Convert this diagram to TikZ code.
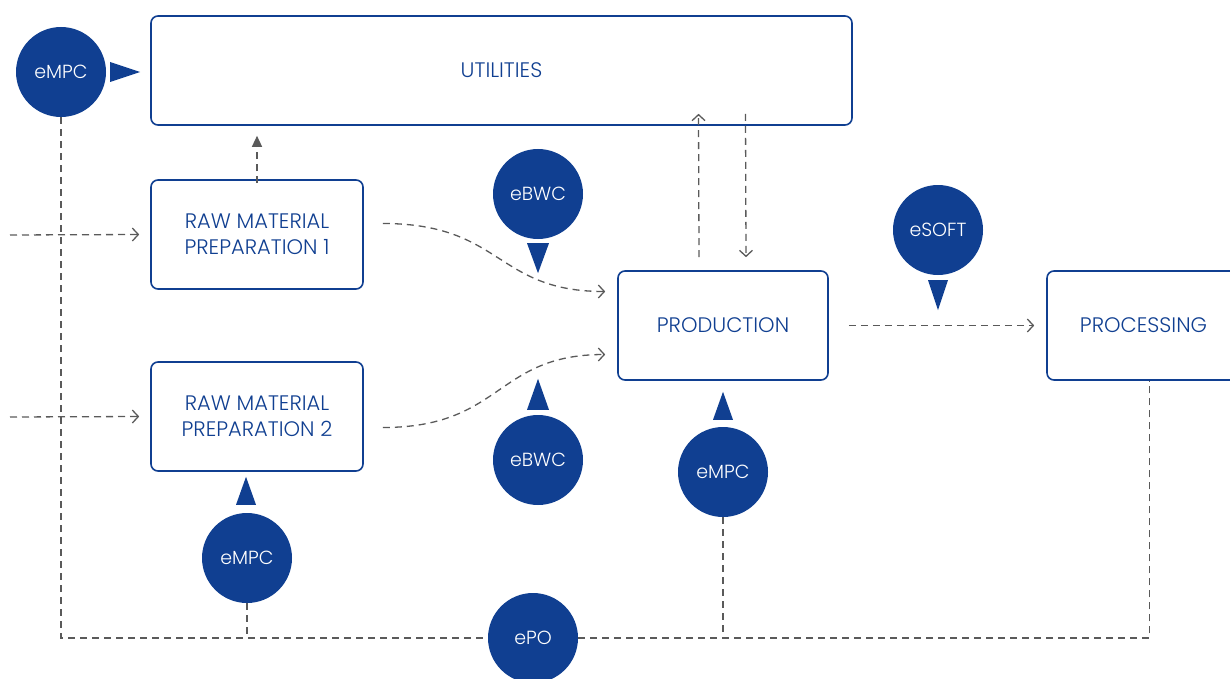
\documentclass[tikz,border=0pt]{standalone}
\usepackage{fontspec}
\IfFontExistsTF{Poppins Light}{\setmainfont{Poppins Light}}{\setmainfont{Poppins}}
\usetikzlibrary{arrows.meta,calc}
\definecolor{eblue}{RGB}{16,63,145}
\definecolor{lgray}{RGB}{90,90,90}
\tikzset{
  box/.style={draw=eblue,line width=1.6pt,rounded corners=7pt,fill=white,text=eblue,
    font=\fontsize{21}{26}\selectfont,align=center},
  badge/.style={circle,fill=eblue,text=white,minimum size=90pt,inner sep=0pt,
    font=\fontsize{19}{22}\selectfont},
  flow/.style={draw=lgray,line width=1.3pt,dash pattern=on 7pt off 5pt},
  opentip/.style={-{Straight Barb[length=6pt,width=13pt,line width=1.3pt]}},
  filltip/.style={-{Triangle[length=11pt,width=10pt]}},
  pointer/.style={fill=eblue}
}
\begin{document}
\begin{tikzpicture}[x=1pt,y=-1pt]
\useasboundingbox (0,0) rectangle (1230,679);
\begin{scope}
\clip (0,0) rectangle (1230,679);
% boxes
\node[box,minimum width=701pt,minimum height=109pt] (util) at (501.5,70.5) {UTILITIES};
\node[box,minimum width=212pt,minimum height=109pt] (raw1) at (257,234.5) {RAW MATERIAL\\PREPARATION 1};
\node[box,minimum width=212pt,minimum height=109pt] (raw2) at (257,416.5) {RAW MATERIAL\\PREPARATION 2};
\node[box,minimum width=210pt,minimum height=109pt] (prod) at (723,325.5) {PRODUCTION};
\node[box,minimum width=193pt,minimum height=109pt] (proc) at (1143.5,325.5) {PROCESSING};
% badges
\node[badge] (mpc1) at (61,72) {eMPC};
\node[badge] (bwc1) at (538,194) {eBWC};
\node[badge] (bwc2) at (538,460) {eBWC};
\node[badge] (mpc2) at (247,558) {eMPC};
\node[badge] (mpc3) at (723,472) {eMPC};
\node[badge] (soft) at (938,230) {eSOFT};
\node[badge] (epo) at (533,638) {ePO};
% free ends
\coordinate (in1) at (10,235);
\coordinate (in2) at (10,417);
% pointers
\fill[pointer] ($(mpc1.east)+(4,-10)$) -- ++(0,20) -- ++(30,-10) -- cycle;
\fill[pointer] ($(bwc1.south)+(-11,4)$) -- ++(22,0) -- ++(-11,30) -- cycle;
\fill[pointer] ($(bwc2.north)+(-11,-5)$) -- ++(22,0) -- ++(-11,-31) -- cycle;
\fill[pointer] ($(mpc2.north)+(-11,-8)$) -- ++(20,0) -- ++(-10,-28) -- cycle;
\fill[pointer] ($(mpc3.north)+(-10,-7)$) -- ++(20,0) -- ++(-10,-28) -- cycle;
\fill[pointer] ($(soft.south)+(-10,5)$) -- ++(20,0) -- ++(-10,30) -- cycle;
% flows
\draw[flow,opentip] (in1) -- ([xshift=-11pt]raw1.west);
\draw[flow,opentip] (in2) -- ([xshift=-11pt]raw2.west);
\draw[flow,filltip] ([yshift=-4pt]raw1.north) -- ([yshift=-10pt]raw1.north |- util.south);
\draw[flow,opentip] ($(raw1.east)+(19,-11)$) .. controls +(120,0) and +(-110,0) .. ($(prod.west)+(-12,-34)$);
\draw[flow,opentip] ($(raw2.east)+(19,11)$) .. controls +(120,0) and +(-110,0) .. ($(prod.west)+(-12,29)$);
\draw[flow,opentip] ($(prod.north)+(-24,-13)$) -- ($(util.south)+(197,-12)$);
\draw[flow,opentip] ($(util.south)+(244,-12)$) -- ($(prod.north)+(23,-13)$);
\draw[flow,opentip] ($(prod.east)+(20,0)$) -- ($(proc.west)+(-12,0)$);
\draw[flow] (mpc1.south) |- (epo.west);
\draw[flow] (epo.east) -| ([xshift=6pt]proc.south);
\draw[flow] (mpc2.south) -- (mpc2.south |- epo.west);
\draw[flow] (mpc3.south) -- (mpc3.south |- epo.east);
\end{scope}
\end{tikzpicture}
\end{document}
